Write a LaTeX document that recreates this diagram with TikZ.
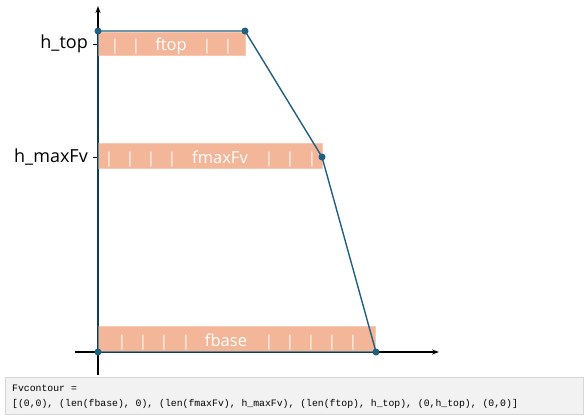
\documentclass[tikz,border=0pt]{standalone}
\usepackage{fontspec}
\setmainfont{Open Sans}
\newfontfamily\codefont{Liberation Mono}
\usetikzlibrary{arrows.meta}
\definecolor{barfill}{HTML}{F4B699}
\definecolor{baredge}{HTML}{F7C9B3}
\definecolor{contour}{HTML}{1F5F80}
\definecolor{codebg}{HTML}{F2F2F2}
\definecolor{codeedge}{HTML}{D6D6D6}
\tikzset{
  axis/.style={line width=1.3pt, black, -{Stealth[length=7pt,width=5pt]}},
  bar/.style={fill=barfill, draw=baredge, line width=0.8pt, anchor=south west, inner sep=0pt},
  bartext/.style={text=white, font=\fontsize{16.5}{18}\selectfont, inner sep=0pt, anchor=base},
  pipe/.style={text=white, font=\fontsize{15}{17}\selectfont, inner sep=0pt, anchor=base},
  ylab/.style={font=\fontsize{18}{20}\selectfont, anchor=east, inner sep=0pt},
  ytick/.style={line width=1pt, black},
  contourline/.style={line width=1.4pt, contour, line join=round},
  dot/.style={circle, fill=contour, inner sep=0pt, minimum size=7pt},
  codebox/.style={fill=codebg, draw=codeedge, line width=0.8pt},
  code/.style={font=\codefont\fontsize{9.8}{11}\selectfont, anchor=base west, inner sep=0pt}
}
\begin{document}
\begin{tikzpicture}[x=1pt,y=-1pt]
\useasboundingbox (0,0) rectangle (586,418);
% axes
\coordinate (xs) at (75,352);
\coordinate (xe) at (439,352);
\coordinate (ys) at (98,375);
\coordinate (ye) at (98,6);
\draw[axis] (xs) -- (xe);
\draw[axis] (ys) -- (ye);
% bars
\node[bar, minimum width=147pt, minimum height=23pt] (btop) at (98,56) {};
\node[bar, minimum width=224pt, minimum height=25pt] (bmax) at (98,169) {};
\node[bar, minimum width=277pt, minimum height=25pt] (bbase) at (98,352) {};
% bar texts
\node[bartext] (tftop) at (171,50) {ftop};
\node[bartext] (tfmax) at (220,163) {fmaxFv};
\node[bartext] (tfbase) at (226,346) {fbase};
\foreach \x [count=\i] in {115,136,207,228}
  \node[pipe] (pt\i) at (\x,50) {|};
\foreach \x [count=\i] in {109,130,151,172,269,290,312}
  \node[pipe] (pm\i) at (\x,163) {|};
\foreach \x [count=\i] in {122,143,164,186,269,290,311,332,353}
  \node[pipe] (pb\i) at (\x,346) {|};
% y ticks and labels
\coordinate (t1a) at (93,44);
\coordinate (t1b) at (98,44);
\coordinate (t2a) at (93,157);
\coordinate (t2b) at (98,157);
\draw[ytick] (t1a) -- (t1b);
\draw[ytick] (t2a) -- (t2b);
\node[ylab] (lhtop) at (88,44) {h\_top};
\node[ylab] (lhmax) at (88,157) {h\_maxFv};
% contour
\node[dot] (p0) at (98,352) {};
\node[dot] (p1) at (376,352) {};
\node[dot] (p2) at (322,157) {};
\node[dot] (p3) at (245,31) {};
\node[dot] (p4) at (98,31) {};
\draw[contourline] (p0.center) -- (p1.center) -- (p2.center) -- (p3.center) -- (p4.center) -- cycle;
% code box
\coordinate (cb1) at (5,377);
\coordinate (cb2) at (583,414);
\draw[codebox] (cb1) rectangle (cb2);
\node[code] (c1) at (12,391) {Fvcontour =};
\node[code] (c2) at (12,406) {[(0,0), (len(fbase), 0), (len(fmaxFv), h\_maxFv), (len(ftop), h\_top), (0,h\_top), (0,0)]};
\end{tikzpicture}
\end{document}
